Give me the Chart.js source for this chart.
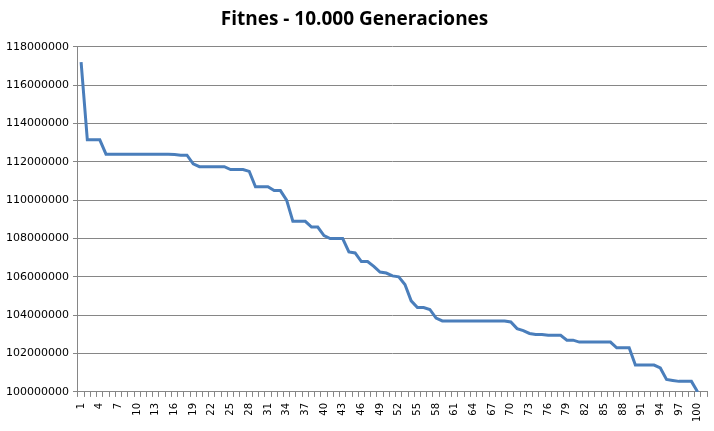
<!DOCTYPE html>
<html><head><meta charset="utf-8">
<script src="https://cdn.jsdelivr.net/npm/chart.js@4/dist/chart.umd.min.js"></script>
<style>html,body{margin:0;padding:0;background:#fff;}canvas{display:block;}</style>
</head><body>
<canvas id="c" width="714" height="431"></canvas>
<script>
const chartTitle = "Fitnes - 10.000 Generaciones";
// 100 generations sampled; Excel leaves one empty trailing category slot on the axis
const categories = ["1","2","3","4","5","6","7","8","9","10","11","12","13","14","15","16","17","18","19","20",
"21","22","23","24","25","26","27","28","29","30","31","32","33","34","35","36","37","38","39","40",
"41","42","43","44","45","46","47","48","49","50","51","52","53","54","55","56","57","58","59","60",
"61","62","63","64","65","66","67","68","69","70","71","72","73","74","75","76","77","78","79","80",
"81","82","83","84","85","86","87","88","89","90","91","92","93","94","95","96","97","98","99","100",""];
const fitness = [
117200000,113150000,113150000,113150000,112400000,112400000,112400000,112400000,112400000,112400000,
112400000,112400000,112400000,112400000,112400000,112380000,112350000,112350000,111900000,111750000,
111750000,111750000,111750000,111750000,111600000,111600000,111600000,111500000,110700000,110700000,
110700000,110500000,110500000,110000000,108900000,108900000,108900000,108600000,108600000,108150000,
108000000,108000000,108000000,107300000,107250000,106800000,106800000,106550000,106250000,106200000,
106050000,106000000,105600000,104750000,104400000,104400000,104300000,103850000,103700000,103700000,
103700000,103700000,103700000,103700000,103700000,103700000,103700000,103700000,103700000,103650000,
103300000,103200000,103050000,103000000,103000000,102950000,102950000,102950000,102700000,102700000,
102600000,102600000,102600000,102600000,102600000,102600000,102300000,102300000,102300000,101400000,
101400000,101400000,101400000,101250000,100650000,100600000,100550000,100550000,100550000,100000000];
const yMin = 100000000, yMax = 118000000, yStep = 2000000;

new Chart(document.getElementById('c'), {
  type: 'line',
  data: { labels: categories, datasets: [{ data: fitness, borderColor: '#4A7EBB', borderWidth: 3, pointRadius: 0, tension: 0, fill: false }] },
  options: {
    responsive: false, animation: false,
    layout: { padding: { left: 2, right: 7, top: 8, bottom: 3 } },
    plugins: {
      legend: { display: false },
      tooltip: { enabled: false },
      title: { display: true, text: chartTitle, color: '#000', font: { family: 'Open Sans', size: 19, weight: 'bold' }, padding: { top: 0, bottom: 16 } }
    },
    scales: {
      x: {
        offset: true,
        afterFit: function(s) { s.paddingRight = 0; },
        grid: { offset: true, drawOnChartArea: false, drawTicks: true, tickLength: 5, color: '#868686' },
        border: { color: '#868686', width: 1 },
        ticks: {
          autoSkip: false, minRotation: 90, maxRotation: 90, color: '#000', padding: 6,
          font: { family: 'DejaVu Sans', size: 10 },
          callback: function(v, i) { return (i % 3 === 0) ? categories[i] : ''; }
        }
      },
      y: {
        min: yMin, max: yMax,
        grid: { color: '#868686', tickLength: 5 },
        border: { color: '#868686', width: 1 },
        ticks: { stepSize: yStep, color: '#000', padding: 4, font: { family: 'DejaVu Sans', size: 11 }, callback: v => String(v) }
      }
    }
  }
});
</script>
</body></html>
